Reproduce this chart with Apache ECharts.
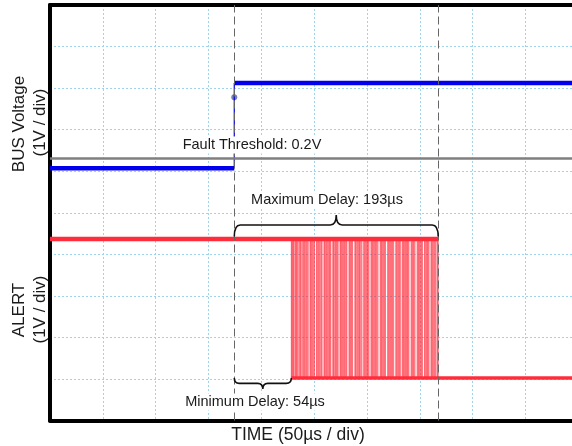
<!DOCTYPE html>
<html>
<head>
<meta charset="utf-8">
<script src="https://cdn.jsdelivr.net/npm/echarts@6/dist/echarts.min.js"></script>
<style>
  html, body { margin: 0; padding: 0; background: #fff; overflow: hidden; }
  /* the scope screen runs a few px past the right edge of the picture */
  #chart { width: 584px; height: 446px; }
</style>
</head>
<body>
<div id="chart"></div>
<script>
// time base: 10 div x 50us
const timeRange = [0, 500];
const triggerTime = 174.4;          // us, where the bus crosses the threshold
const busLevels = [-0.05, 2.0];     // V, before / after the fault
const busMarker = [174.4, 1.66];    // trigger dot on the rising edge
const faultThreshold = 0.2;         // V
const alertLevels = [0.02, 3.37];   // V, low / high
const minDelay = 54;                // us
const maxDelay = 193;               // us
// ALERT falling edges seen in persistence, delay after trigger (us)
const fallDelays = [
  54, 54.4, 55.1, 55.9, 56.3, 57.4, 58.0, 58.9, 59.5, 60.2, 61.3, 62.1, 62.6, 63.4,
  64.8, 65.3, 66.1, 66.7, 67.6, 68.5, 69.1, 70.0, 71.7, 72.2, 73.0, 73.8, 74.5, 75.3,
  76.0, 77.9, 78.4, 79.2, 79.9, 80.6, 81.8, 82.4, 83.1, 84.9, 85.5, 86.1, 87.0, 87.6,
  88.4, 89.3, 90.1, 90.8, 91.4, 93.2, 93.9, 94.5, 95.4, 96.0, 96.7, 97.6, 98.3, 100.1,
  100.6, 101.4, 102.2, 102.9, 103.6, 104.4, 105.1, 106.0, 106.6, 108.6, 109.2, 109.9,
  110.7, 111.3, 112.0, 114.1, 114.8, 115.4, 116.3, 117.0, 117.8, 118.5, 119.1, 120.0,
  120.8, 122.5, 123.1, 123.9, 124.6, 125.3, 126.1, 126.8, 127.5, 129.4, 130.0, 130.9,
  131.5, 132.3, 133.0, 133.8, 134.4, 135.2, 136.0, 138.1, 138.7, 139.4, 140.1, 140.9,
  141.6, 142.3, 143.1, 145.2, 145.8, 146.5, 147.2, 148.0, 148.7, 149.5, 150.1, 150.9,
  152.9, 153.4, 154.2, 155.0, 155.7, 156.3, 157.2, 158.9, 159.5, 160.2, 161.0, 161.8,
  162.4, 163.1, 164.0, 164.6, 165.3, 167.4, 168.0, 168.8, 169.5, 170.2, 171.0, 173.1,
  173.7, 174.4, 175.2, 175.9, 176.6, 177.3, 178.1, 180.0, 180.6, 181.4, 182.1, 182.9,
  183.6, 184.3, 186.2, 186.8, 187.5, 188.3, 189.1, 189.8, 190.6, 191.9, 192.5, 193
];

const BLUE = '#0000ee';
const RED = '#ff2d3c';
const GRID_LINE = { type: [2, 2], color: '#9fd3ea', width: 1 };
const FRAME = { show: true, onZero: false, lineStyle: { color: '#000', width: 4 } };

const chart = echarts.init(document.getElementById('chart'), null, { renderer: 'canvas' });

function braceItem(params, api) {
  const up = params.dataIndex === 0;
  const dir = up ? -1 : 1;
  const a = api.coord([api.value(0), api.value(2)]);
  const b = api.coord([api.value(1), api.value(2)]);
  const gap = up ? 2.5 : 0;
  const h = up ? 11.5 : 5.3;
  const c = up ? 10 : 5.7;
  const r = up ? 6 : 5;
  const x1 = a[0], x2 = b[0], xm = (x1 + x2) / 2;
  const ye = a[1] + dir * gap;
  const yh = ye + dir * h;
  const yc = yh + dir * c;
  const d = 'M' + x1 + ' ' + ye +
    ' Q' + x1 + ' ' + yh + ' ' + (x1 + r) + ' ' + yh +
    ' L' + (xm - r) + ' ' + yh +
    ' Q' + xm + ' ' + yh + ' ' + xm + ' ' + yc +
    ' Q' + xm + ' ' + yh + ' ' + (xm + r) + ' ' + yh +
    ' L' + (x2 - r) + ' ' + yh +
    ' Q' + x2 + ' ' + yh + ' ' + x2 + ' ' + ye;
  return {
    type: 'path',
    shape: { pathData: d },
    style: { fill: null, stroke: '#111', lineWidth: 1.6 }
  };
}

function edgeItem(params, api) {
  const p1 = api.coord([api.value(0), api.value(1)]);
  const p2 = api.coord([api.value(0), api.value(2)]);
  return {
    type: 'line',
    shape: { x1: p1[0], y1: p1[1], x2: p2[0], y2: p2[1] },
    style: { stroke: RED, lineWidth: 1, opacity: 0.65 }
  };
}

const textBase = { fill: '#1a1a1a', fontFamily: 'Liberation Sans, Arial, sans-serif' };
function label(text, x, y, size, rot, bg) {
  return {
    type: 'text', x: x, y: y, z: 100, rotation: rot || 0,
    style: Object.assign({}, textBase, {
      text: text, fontSize: size, align: 'center', verticalAlign: 'middle',
      backgroundColor: bg ? '#fff' : null, padding: bg ? [1, 2] : 0
    })
  };
}

const hiddenBits = { axisTick: { show: false }, axisLabel: { show: false } };

const option = {
  animation: false,
  backgroundColor: '#fff',
  grid: { left: 50, top: 5, width: 528.3, height: 415.5 },
  xAxis: [
    Object.assign({
      type: 'value', position: 'bottom', min: timeRange[0], max: timeRange[1], interval: 50,
      axisLine: FRAME,
      splitLine: { show: true, showMinLine: false, showMaxLine: false, lineStyle: GRID_LINE }
    }, hiddenBits),
    Object.assign({
      type: 'value', position: 'top', min: timeRange[0], max: timeRange[1],
      axisLine: FRAME, splitLine: { show: false }
    }, hiddenBits)
  ],
  yAxis: [
    Object.assign({
      type: 'value', position: 'left', min: 0, max: 10, interval: 1,
      axisLine: FRAME,
      splitLine: { show: true, showMinLine: false, showMaxLine: false, lineStyle: GRID_LINE }
    }, hiddenBits),
    { type: 'value', min: -6.12, max: 3.88, show: false },
    { type: 'value', min: -1, max: 9, show: false }
  ],
  series: [
    {
      name: 'BUS low', type: 'line', yAxisIndex: 1, symbol: 'none',
      data: [[timeRange[0], busLevels[0]], [triggerTime, busLevels[0]]],
      lineStyle: { color: BLUE, width: 4.5 },
      markLine: {
        silent: true, symbol: 'none', label: { show: false },
        data: [
          { yAxis: faultThreshold, lineStyle: { color: '#7f7f7f', width: 2.6, type: 'solid' } },
          { xAxis: triggerTime, lineStyle: { color: '#666', width: 1, type: [8, 4] } },
          { xAxis: triggerTime + maxDelay, lineStyle: { color: '#666', width: 1, type: [8, 4] } }
        ]
      }
    },
    {
      name: 'BUS edge', type: 'line', yAxisIndex: 1, symbol: 'none',
      data: [[triggerTime, busLevels[0]], [triggerTime, busLevels[1]]],
      lineStyle: { color: BLUE, width: 1.2 }
    },
    {
      name: 'BUS high', type: 'line', yAxisIndex: 1, symbol: 'none',
      data: [[triggerTime, busLevels[1]], [timeRange[1], busLevels[1]]],
      lineStyle: { color: BLUE, width: 4.5 }
    },
    {
      name: 'trigger', type: 'scatter', yAxisIndex: 1, symbolSize: 6,
      data: [busMarker], itemStyle: { color: '#56609a' }
    },
    {
      name: 'ALERT high', type: 'line', yAxisIndex: 2, symbol: 'none',
      data: [[timeRange[0], alertLevels[1]], [triggerTime + maxDelay, alertLevels[1]]],
      lineStyle: { color: RED, width: 4.5 }
    },
    {
      name: 'ALERT low', type: 'line', yAxisIndex: 2, symbol: 'none',
      data: [[triggerTime + minDelay, alertLevels[0]], [timeRange[1], alertLevels[0]]],
      lineStyle: { color: RED, width: 3.5 }
    },
    {
      name: 'ALERT edges', type: 'custom', yAxisIndex: 2,
      encode: { x: 0, y: [1, 2] },
      data: fallDelays.map(d => [triggerTime + d, alertLevels[0], alertLevels[1]]),
      renderItem: edgeItem
    },
    {
      name: 'braces', type: 'custom', yAxisIndex: 2, clip: false, z: 5,
      encode: { x: [0, 1], y: 2 },
      data: [
        [triggerTime, triggerTime + maxDelay, alertLevels[1]],
        [triggerTime, triggerTime + minDelay, alertLevels[0]]
      ],
      renderItem: braceItem
    }
  ],
  graphic: [
    label('Fault Threshold: 0.2V', 252, 145, 14.5, 0, true),
    label('Maximum Delay: 193\u00b5s', 327, 200, 14.5, 0, true),
    label('Minimum Delay: 54\u00b5s', 255, 402, 14.5, 0, true),
    label('TIME (50\u00b5s / div)', 298, 435, 17.5, 0, false),
    label('BUS Voltage', 19, 124, 17, Math.PI / 2, false),
    label('(1V / div)', 40, 122.5, 17, Math.PI / 2, false),
    label('ALERT', 19, 310, 17, Math.PI / 2, false),
    label('(1V / div)', 40, 309.5, 17, Math.PI / 2, false)
  ]
};

chart.setOption(option);
</script>
</body>
</html>
